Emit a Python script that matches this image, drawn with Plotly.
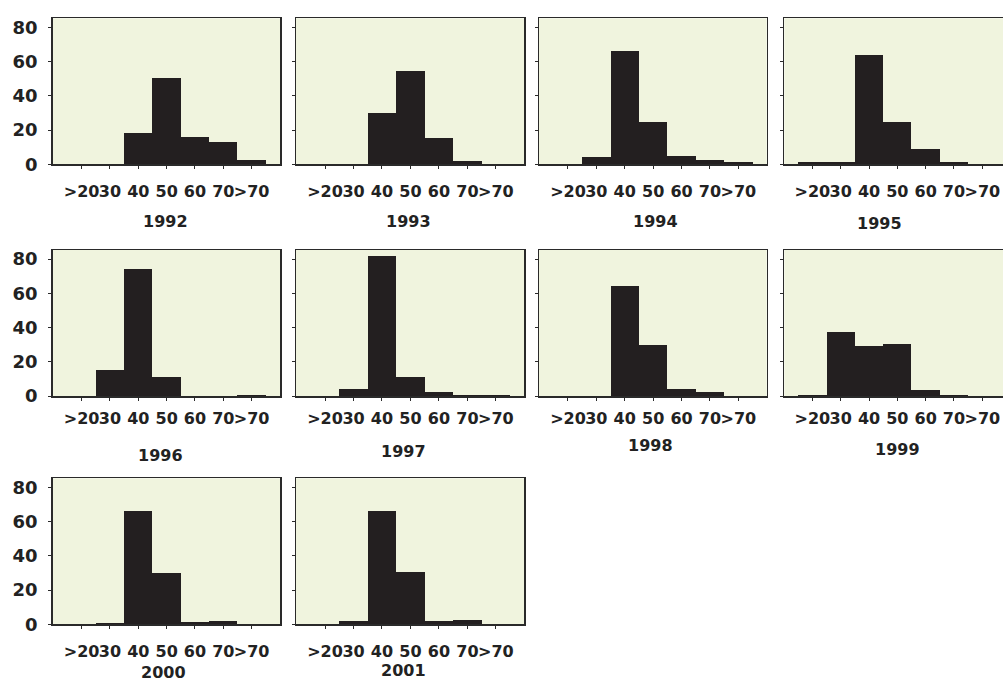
import plotly.graph_objects as go

# ---------------- data ----------------
categories = [">20", "30", "40", "50", "60", "70", ">70"]
years = ["1992", "1993", "1994", "1995", "1996", "1997", "1998", "1999", "2000", "2001"]

values_1992 = [0, 0, 18.5, 50.2, 16.0, 13.2, 2.4]
values_1993 = [0, 0, 30.2, 54.5, 15.6, 1.8, 0]
values_1994 = [0, 4.1, 66.0, 24.5, 5.1, 2.3, 1.2]
values_1995 = [1.2, 1.2, 64.0, 25.0, 8.9, 1.2, 0]
values_1996 = [0, 15.1, 74.0, 10.9, 0, 0, 0.4]
values_1997 = [0, 4.1, 82.0, 10.9, 2.3, 0.8, 0.8]
values_1998 = [0, 0, 64.5, 29.9, 4.3, 2.1, 0]
values_1999 = [0.6, 37.3, 29.3, 30.3, 3.7, 0.6, 0]
values_2000 = [0, 0.8, 66.0, 30.2, 1.6, 1.9, 0]
values_2001 = [0, 1.7, 66.0, 30.5, 1.7, 2.3, 0]

y_tick_values = [0, 20, 40, 60, 80]

series = [values_1992, values_1993, values_1994, values_1995, values_1996,
          values_1997, values_1998, values_1999, values_2000, values_2001]

# ---------------- layout geometry (screen pixels) ----------------
W, H = 1003, 685
col_px = [(52.7, 280.0), (296.0, 524.3), (539.0, 766.7), (784.3, 1003.0)]
row_px = [(18.3, 164.3), (250.0, 396.0), (478.3, 624.3)]
x_ranges = [[-1.02, 7.0], [-1.02, 7.0], [-1.02, 7.0], [-0.99, 6.73]]
label_standoff = [9, 4, 9]
title_px = [(165, 221), (408, 221), (655, 221), (879, 223),
            (160, 455), (403, 451), (650, 445), (897, 449),
            (163, 672), (403, 670)]


def px_x(v):
    return min(max(v / W, 0.0), 1.0)


def px_y(v):
    return min(max(1 - v / H, 0.0), 1.0)


BG = "#F0F4DE"
BAR = "#231F20"
LINE = "#2a2a2a"
FONT = "DejaVu Sans"

fig = go.Figure()
layout = dict(
    width=W, height=H,
    margin=dict(l=0, r=0, t=0, b=0, autoexpand=False),
    paper_bgcolor="white",
    plot_bgcolor=BG,
    showlegend=False,
    bargap=0,
    font=dict(family=FONT, size=16, color="#222"),
)

annotations = []
for i, (yr, vals) in enumerate(zip(years, series)):
    r, c = divmod(i, 4)
    n = i + 1
    xa = "x" if n == 1 else f"x{n}"
    ya = "y" if n == 1 else f"y{n}"
    fig.add_trace(go.Bar(
        x=categories, y=vals, xaxis=xa, yaxis=ya,
        marker=dict(color=BAR, line=dict(width=0)),
        width=1.0,
    ))
    x0, x1 = col_px[c]
    y0, y1 = row_px[r]
    layout[f"xaxis{'' if n == 1 else n}"] = dict(
        domain=[px_x(x0), px_x(x1)],
        anchor=ya,
        type="category",
        categoryorder="array", categoryarray=categories,
        range=x_ranges[c],
        showline=True, linecolor=LINE, linewidth=1.5,
        mirror=True,
        ticks="outside", ticklen=3, tickcolor=LINE, tickwidth=1,
        tickangle=0,
        tickfont=dict(family=FONT, size=16, color="#222", weight="bold"),
        ticklabelstandoff=label_standoff[r],
        showgrid=False, zeroline=False, fixedrange=True, automargin=False,
    )
    layout[f"yaxis{'' if n == 1 else n}"] = dict(
        domain=[px_y(y1), px_y(y0)],
        anchor=xa,
        range=[0, 85.3],
        tickvals=y_tick_values,
        showticklabels=(c == 0),
        showline=True, linecolor=LINE, linewidth=1.5,
        mirror=(c != 3),
        ticks="outside", ticklen=3, tickcolor=LINE, tickwidth=1,
        tickfont=dict(family=FONT, size=18, color="#222", weight="bold"),
        ticklabelstandoff=7,
        showgrid=False, zeroline=False, fixedrange=True, automargin=False,
    )
    tx, ty = title_px[i]
    annotations.append(dict(
        text=yr, x=px_x(tx), y=px_y(ty), xref="paper", yref="paper",
        xanchor="center", yanchor="middle", showarrow=False,
        font=dict(family=FONT, size=16, color="#222", weight="bold"),
    ))

layout["annotations"] = annotations
fig.update_layout(**layout)
fig.write_html(
    "out.html",
    config={"displayModeBar": False, "staticPlot": True},
    post_script="document.body.style.margin='0px';document.body.style.overflow='hidden';",
)
